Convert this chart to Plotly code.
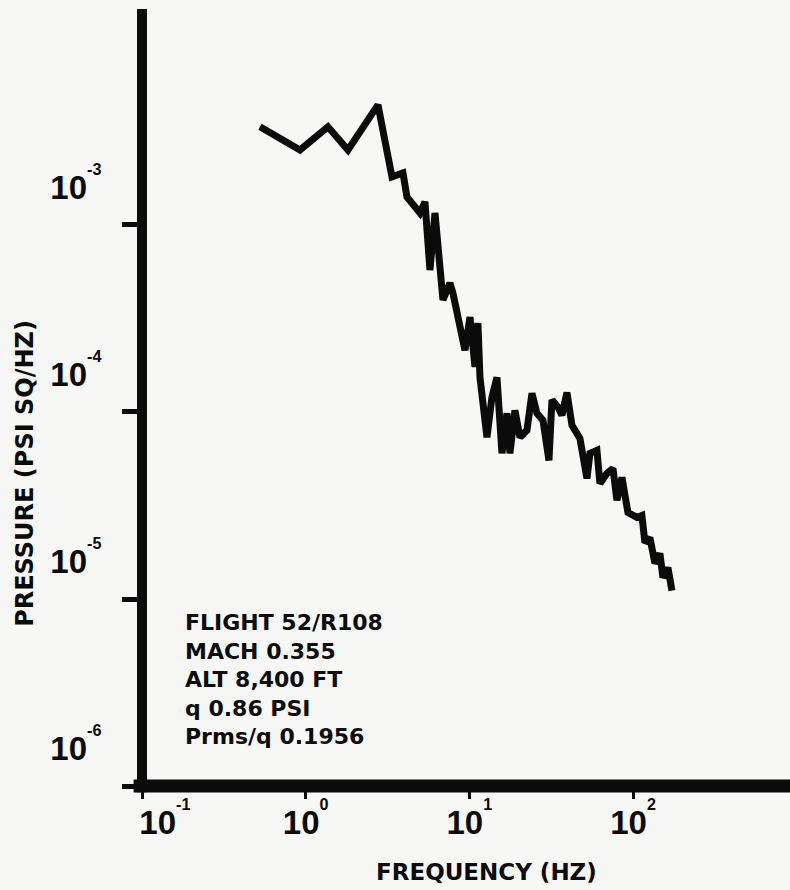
import plotly.graph_objects as go

# ---- data (frequency in Hz, PSD in psi^2/Hz) ----
freq_hz = [0.526, 0.923, 1.368, 1.813, 2.765, 3.138, 3.367, 3.930, 4.157, 4.991,
           5.355, 5.744, 6.165, 6.898, 7.611, 7.939, 9.400, 10.09, 10.82, 11.28,
           11.61, 12.81, 13.74, 14.75, 15.38, 15.82, 16.97, 17.70, 18.99, 20.38,
           22.48, 24.13, 25.88, 28.16, 30.64, 31.96, 34.77, 36.79, 39.47, 42.35,
           47.37, 52.29, 54.54, 60.18, 62.78, 69.27, 75.40, 79.74, 85.53, 93.09,
           105.6, 113.3, 118.2, 126.8, 136.1, 146.0, 152.3, 163.4, 172.9]
psd = [3.35e-3, 2.52e-3, 3.35e-3, 2.52e-3, 4.39e-3, 2.62e-3, 1.81e-3, 1.90e-3, 1.41e-3, 1.16e-3,
       1.33e-3, 5.74e-4, 1.16e-3, 3.97e-4, 4.89e-4, 4.32e-4, 2.14e-4, 3.22e-4, 1.74e-4, 2.99e-4,
       1.53e-4, 7.32e-5, 1.20e-4, 1.53e-4, 7.05e-5, 6.01e-5, 9.84e-5, 6.01e-5, 1.02e-4, 7.32e-5,
       7.98e-5, 1.26e-4, 9.84e-5, 9.03e-5, 5.51e-5, 1.16e-4, 1.06e-4, 9.60e-5, 1.27e-4, 8.49e-5,
       7.23e-5, 4.41e-5, 6.01e-5, 6.23e-5, 4.15e-5, 4.69e-5, 4.99e-5, 3.37e-5, 4.47e-5, 2.90e-5,
       2.73e-5, 2.80e-5, 2.00e-5, 2.13e-5, 1.55e-5, 1.75e-5, 1.30e-5, 1.47e-5, 1.11e-5]

x_tick_vals = [0.1, 1, 10, 100]
x_tick_exps = ["-1", "0", "1", "2"]
y_tick_vals = [1e-6, 1e-5, 1e-4, 1e-3]
y_tick_exps = ["-6", "-5", "-4", "-3"]

x_title = "FREQUENCY (HZ)"
y_title = "PRESSURE (PSI SQ/HZ)"
info_lines = ["FLIGHT 52/R108", "MACH 0.355", "ALT 8,400 FT", "q 0.86 PSI", "Prms/q 0.1956"]


def pow_label(e):
    return "10<sup><sup>" + e + "</sup></sup>"


x_tick_text = [pow_label(e) for e in x_tick_exps]
x_tick_text[0] = "&nbsp;" * 5 + x_tick_text[0]
y_tick_text = [pow_label(e) for e in y_tick_exps]

INK = "#0b0b0b"
BG = "#f7f7f5"
tick_font = dict(family="Liberation Sans, Arial, sans-serif", size=33, color=INK, weight="bold")
text_font = "DejaVu Sans, sans-serif"

fig = go.Figure()
fig.add_trace(go.Scatter(
    x=freq_hz, y=psd, mode="lines",
    line=dict(color=INK, width=7),
    hoverinfo="skip", showlegend=False,
))

fig.update_layout(
    width=790, height=890,
    margin=dict(l=142, r=0, t=9, b=104, autoexpand=False),
    paper_bgcolor=BG, plot_bgcolor=BG,
    showlegend=False,
    xaxis=dict(
        type="log", range=[-1, 2.959], automargin=False,
        showgrid=False, zeroline=False, showline=False,
        ticks="outside", ticklen=12, tickwidth=3, tickcolor=INK,
        tickvals=x_tick_vals, ticktext=x_tick_text,
        tickfont=tick_font, ticklabelstandoff=-5,
    ),
    yaxis=dict(
        type="log", range=[-6, -1.845], automargin=False,
        showgrid=False, zeroline=False, showline=False,
        ticks="outside", ticklen=19, tickwidth=5, tickcolor=INK,
        tickvals=y_tick_vals, ticktext=y_tick_text,
        tickfont=tick_font, ticklabelshift=-38, ticklabelstandoff=14,
    ),
    shapes=[
        dict(type="line", xref="paper", yref="paper", x0=-0.013, x1=1.0, y0=0, y1=0,
             line=dict(color=INK, width=13), layer="above"),
        dict(type="line", xref="paper", yref="paper", x0=0, x1=0, y0=-0.008, y1=1.0,
             line=dict(color=INK, width=10), layer="above"),
    ],
    annotations=[
        dict(text="<br>".join(info_lines), xref="paper", yref="paper",
             x=0.0633, y=0.1377, xanchor="left", yanchor="middle", align="left",
             showarrow=False, font=dict(family=text_font, size=22, color=INK, weight="bold")),
        dict(text=x_title, xref="paper", yref="paper", x=0.531, y=-0.1107,
             xanchor="center", yanchor="middle", showarrow=False,
             font=dict(family=text_font, size=23, color=INK, weight="bold")),
        dict(text=y_title, xref="paper", yref="paper", x=-0.1806, y=0.403,
             xanchor="center", yanchor="middle", textangle=-90, showarrow=False,
             font=dict(family=text_font, size=24, color=INK, weight="bold")),
    ],
)

fig.write_html(
    "out.html",
    config={"displayModeBar": False},
    post_script="document.body.style.margin='0';document.body.style.background='" + BG + "';",
)
